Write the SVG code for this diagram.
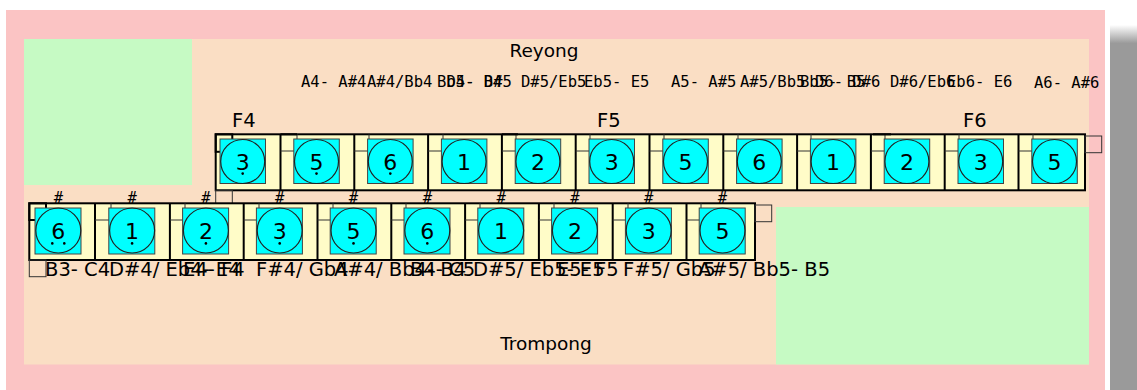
<svg xmlns="http://www.w3.org/2000/svg" width="1137" height="390" viewBox="0 0 1137 390">
<defs>
  <linearGradient id="shade" x1="0" y1="0" x2="0" y2="1">
    <stop offset="0" stop-color="#9a9a9a" stop-opacity="0"/>
    <stop offset="0.05" stop-color="#9a9a9a" stop-opacity="1"/>
    <stop offset="1" stop-color="#9a9a9a" stop-opacity="1"/>
  </linearGradient>
  <clipPath id="page"><rect x="0" y="0" width="1105" height="390"/></clipPath>
</defs>
<style>
  .lbl{font-family:"DejaVu Sans",sans-serif;font-size:19.5px;fill:#000}
  .mono{font-family:"DejaVu Sans Mono","Liberation Mono",monospace;font-size:15.5px;fill:#000}
  .title{font-family:"DejaVu Sans",sans-serif;font-size:18.5px;fill:#000;text-anchor:middle}
  .sharp{font-family:"DejaVu Sans Mono","Liberation Mono",monospace;font-size:15.5px;fill:#000;text-anchor:middle}
  .num{font-family:"DejaVu Sans",sans-serif;font-size:22px;fill:#000;text-anchor:middle}
  .row{fill:#fffcc8;stroke:#000;stroke-width:2}
  .sep{stroke:#000;stroke-width:2}
  .pad{fill:#00ffff;stroke:#444;stroke-width:1}
  .gong{fill:none;stroke:#222;stroke-width:1.2}
  .tab{fill:none;stroke:#333;stroke-width:1}
  .tabb{fill:none;stroke:#000;stroke-width:2}
  .dot{fill:#000}
</style>

<!-- page and shadow -->
<rect x="0" y="0" width="1137" height="390" fill="#ffffff"/>
<rect x="1110" y="25" width="27" height="365" fill="url(#shade)"/>

<g clip-path="url(#page)">
  <rect x="6" y="10" width="1099" height="380" fill="#fbc4c4"/>
  <rect x="24" y="39" width="1065" height="325.5" fill="#fadec4"/>
  <rect x="24" y="39" width="168" height="146" fill="#c6fac4"/>
  <rect x="776" y="207" width="313" height="157.5" fill="#c6fac4"/>

  <text class="title" x="544" y="57">Reyong</text>
  <text class="title" x="546" y="350">Trompong</text>

  <!-- Reyong row -->
  <g id="reyong-frame">
    <rect class="row" x="215.7" y="134.3" width="869.3" height="56"/>
    <path class="sep" d="M280.5 134.3V190.3M354.3 134.3V190.3M428.1 134.3V190.3M501.9 134.3V190.3M575.7 134.3V190.3M649.5 134.3V190.3M723.3 134.3V190.3M797.1 134.3V190.3M870.9 134.3V190.3M944.7 134.3V190.3M1018.5 134.3V190.3"/>
    <path class="tab" d="M280.5 151H297V134.3M354.3 151H369V134.3M428.1 151H443V134.3M501.9 151H516V134.3M575.7 151H590V134.3M649.5 151H664V134.3M723.3 151H738V134.3M797.1 151H811V134.3M870.9 151H885V134.3M944.7 151H959V134.3M1018.5 151H1033V134.3"/>
    <rect class="tabb" x="215.7" y="134.3" width="16.6" height="17.5"/>
    <path class="tabb" d="M280.5 134.3H297"/>
    <path class="tabb" d="M501.9 134.3H518"/>
    <path class="tabb" d="M873 134.3H891"/>
    <rect class="tab" x="215.7" y="190.3" width="16.6" height="16.7"/>
    <rect class="tab" x="1085" y="136" width="16.7" height="16.7"/>
  </g>

  <g id="reyong-1"><rect class="pad" x="220" y="139" width="45.5" height="44.5"/><circle class="gong" cx="242.7" cy="161.5" r="22"/><text class="num" x="242.7" y="169.8">3</text><circle class="dot" cx="242.7" cy="173.6" r="1.3"/></g>
  <g id="reyong-2"><rect class="pad" x="293.8" y="139" width="45.5" height="44.5"/><circle class="gong" cx="316.5" cy="161.5" r="22"/><text class="num" x="316.5" y="169.8">5</text><circle class="dot" cx="316.5" cy="173.6" r="1.3"/></g>
  <g id="reyong-3"><rect class="pad" x="367.6" y="139" width="45.5" height="44.5"/><circle class="gong" cx="390.3" cy="161.5" r="22"/><text class="num" x="390.3" y="169.8">6</text><circle class="dot" cx="390.3" cy="173.6" r="1.3"/></g>
  <g id="reyong-4"><rect class="pad" x="441.4" y="139" width="45.5" height="44.5"/><circle class="gong" cx="464.1" cy="161.5" r="22"/><text class="num" x="464.1" y="169.8">1</text></g>
  <g id="reyong-5"><rect class="pad" x="515.2" y="139" width="45.5" height="44.5"/><circle class="gong" cx="537.9" cy="161.5" r="22"/><text class="num" x="537.9" y="169.8">2</text></g>
  <g id="reyong-6"><rect class="pad" x="589" y="139" width="45.5" height="44.5"/><circle class="gong" cx="611.7" cy="161.5" r="22"/><text class="num" x="611.7" y="169.8">3</text></g>
  <g id="reyong-7"><rect class="pad" x="662.8" y="139" width="45.5" height="44.5"/><circle class="gong" cx="685.5" cy="161.5" r="22"/><text class="num" x="685.5" y="169.8">5</text></g>
  <g id="reyong-8"><rect class="pad" x="736.6" y="139" width="45.5" height="44.5"/><circle class="gong" cx="759.3" cy="161.5" r="22"/><text class="num" x="759.3" y="169.8">6</text></g>
  <g id="reyong-9"><rect class="pad" x="810.4" y="139" width="45.5" height="44.5"/><circle class="gong" cx="833.1" cy="161.5" r="22"/><text class="num" x="833.1" y="169.8">1</text></g>
  <g id="reyong-10"><rect class="pad" x="884.2" y="139" width="45.5" height="44.5"/><circle class="gong" cx="906.9" cy="161.5" r="22"/><text class="num" x="906.9" y="169.8">2</text></g>
  <g id="reyong-11"><rect class="pad" x="958" y="139" width="45.5" height="44.5"/><circle class="gong" cx="980.7" cy="161.5" r="22"/><text class="num" x="980.7" y="169.8">3</text></g>
  <g id="reyong-12"><rect class="pad" x="1031.8" y="139" width="45.5" height="44.5"/><circle class="gong" cx="1054.5" cy="161.5" r="22"/><text class="num" x="1054.5" y="169.8">5</text></g>

  <g id="reyong-pitches">
    <text class="lbl" x="232" y="126.5">F4</text>
    <text class="lbl" x="597" y="126.5">F5</text>
    <text class="lbl" x="963" y="126.5">F6</text>
    <text class="mono" x="301" y="86.5">A4-  A#4</text>
    <text class="mono" x="367" y="86.5">A#4/Bb4</text>
    <text class="mono" x="437" y="86.5">Bb4-  B4</text>
    <text class="mono" x="446.5" y="86.5">D5-  D#5</text>
    <text class="mono" x="521" y="86.5">D#5/Eb5</text>
    <text class="mono" x="584" y="86.5">Eb5-  E5</text>
    <text class="mono" x="671" y="86.5">A5-  A#5</text>
    <text class="mono" x="740" y="86.5">A#5/Bb5</text>
    <text class="mono" x="800" y="86.5">Bb5-  B5</text>
    <text class="mono" x="815" y="86.5">D6-  D#6</text>
    <text class="mono" x="890" y="86.5">D#6/Eb6</text>
    <text class="mono" x="947" y="86.5">Eb6-  E6</text>
    <text class="mono" x="1034" y="87.5">A6-  A#6</text>
  </g>

  <!-- Trompong row -->
  <g id="trompong-frame">
    <rect class="row" x="29.3" y="203.3" width="725.7" height="56.7"/>
    <path class="sep" d="M95 203.3V260M169.9 203.3V260M243.7 203.3V260M317.5 203.3V260M391.3 203.3V260M465.1 203.3V260M538.9 203.3V260M612.7 203.3V260M686.5 203.3V260"/>
    <path class="tab" d="M95 220H111V203.3M169.9 220H185V203.3M243.7 220H259V203.3M317.5 220H333V203.3M391.3 220H406V203.3M465.1 220H480V203.3M538.9 220H554V203.3M612.7 220H628V203.3M686.5 220H701V203.3"/>
    <rect class="tabb" x="29.3" y="203.3" width="16.7" height="16.7"/>
    <rect class="tab" x="29.3" y="260" width="16.7" height="16.7"/>
    <rect class="tab" x="755" y="205" width="16.7" height="16.7"/>
  </g>

  <g id="trompong-1"><rect class="pad" x="35" y="208" width="46" height="46"/><circle class="gong" cx="58.3" cy="230.5" r="22.5"/><text class="num" x="58.3" y="238.8">6</text><circle class="dot" cx="52.3" cy="243.4" r="1.3"/><circle class="dot" cx="64.3" cy="243.4" r="1.3"/></g>
  <g id="trompong-2"><rect class="pad" x="108.8" y="208" width="46" height="46"/><circle class="gong" cx="132.1" cy="230.5" r="22.5"/><text class="num" x="132.1" y="238.8">1</text><circle class="dot" cx="132.1" cy="243.4" r="1.3"/></g>
  <g id="trompong-3"><rect class="pad" x="182.6" y="208" width="46" height="46"/><circle class="gong" cx="205.9" cy="230.5" r="22.5"/><text class="num" x="205.9" y="238.8">2</text><circle class="dot" cx="205.9" cy="243.4" r="1.3"/></g>
  <g id="trompong-4"><rect class="pad" x="256.4" y="208" width="46" height="46"/><circle class="gong" cx="279.7" cy="230.5" r="22.5"/><text class="num" x="279.7" y="238.8">3</text><circle class="dot" cx="279.7" cy="243.4" r="1.3"/></g>
  <g id="trompong-5"><rect class="pad" x="330.2" y="208" width="46" height="46"/><circle class="gong" cx="353.5" cy="230.5" r="22.5"/><text class="num" x="353.5" y="238.8">5</text><circle class="dot" cx="353.5" cy="243.4" r="1.3"/></g>
  <g id="trompong-6"><rect class="pad" x="404" y="208" width="46" height="46"/><circle class="gong" cx="427.3" cy="230.5" r="22.5"/><text class="num" x="427.3" y="238.8">6</text><circle class="dot" cx="427.3" cy="243.4" r="1.3"/></g>
  <g id="trompong-7"><rect class="pad" x="477.8" y="208" width="46" height="46"/><circle class="gong" cx="501.1" cy="230.5" r="22.5"/><text class="num" x="501.1" y="238.8">1</text></g>
  <g id="trompong-8"><rect class="pad" x="551.6" y="208" width="46" height="46"/><circle class="gong" cx="574.9" cy="230.5" r="22.5"/><text class="num" x="574.9" y="238.8">2</text></g>
  <g id="trompong-9"><rect class="pad" x="625.4" y="208" width="46" height="46"/><circle class="gong" cx="648.7" cy="230.5" r="22.5"/><text class="num" x="648.7" y="238.8">3</text></g>
  <g id="trompong-10"><rect class="pad" x="699.2" y="208" width="46" height="46"/><circle class="gong" cx="722.5" cy="230.5" r="22.5"/><text class="num" x="722.5" y="238.8">5</text></g>

  <g id="trompong-sharps">
    <text class="sharp" x="58.3" y="202.5">#</text>
    <text class="sharp" x="132.1" y="202.5">#</text>
    <text class="sharp" x="205.9" y="202.5">#</text>
    <text class="sharp" x="279.7" y="202.5">#</text>
    <text class="sharp" x="353.5" y="202.5">#</text>
    <text class="sharp" x="427.3" y="202.5">#</text>
    <text class="sharp" x="501.1" y="202.5">#</text>
    <text class="sharp" x="574.9" y="202.5">#</text>
    <text class="sharp" x="648.7" y="202.5">#</text>
    <text class="sharp" x="722.5" y="202.5">#</text>
  </g>

  <g id="trompong-pitches">
    <text class="lbl" x="45" y="275.5">B3-  C4</text>
    <text class="lbl" x="109" y="275.5">D#4/  Eb4-  E4</text>
    <text class="lbl" x="183" y="275.5">E4-  F4</text>
    <text class="lbl" x="256" y="275.5">F#4/  Gb4</text>
    <text class="lbl" x="334" y="275.5">A#4/  Bb4-  B4</text>
    <text class="lbl" x="410" y="275.5">B4-  C5</text>
    <text class="lbl" x="473" y="275.5">D#5/  Eb5-  E5</text>
    <text class="lbl" x="557" y="275.5">E5-  F5</text>
    <text class="lbl" x="623" y="275.5">F#5/  Gb5</text>
    <text class="lbl" x="698" y="275.5">A#5/  Bb5-  B5</text>
  </g>
</g>
</svg>
